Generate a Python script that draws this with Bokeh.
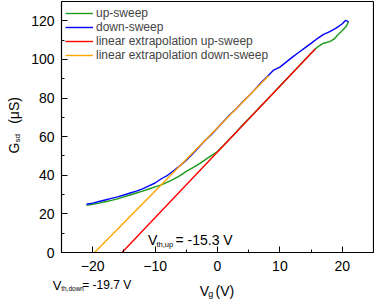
import math
from bokeh.plotting import figure
from bokeh.models import Label, SingleIntervalTicker, FixedTicker, Range1d, LinearAxis
from bokeh.embed import file_html
from bokeh.resources import INLINE

# ---- data ----
vg_up = [-21, -20, -19, -18, -17, -16, -15, -14, -13, -12, -11, -10, -9, -8, -7, -6,
         -5, -4, -3, -2, -1, 0, 1, 2, 3, 4, 5, 6, 7, 8, 9, 10, 11, 12, 13, 14, 15,
         16, 17, 18, 18.7, 19.3, 20, 20.6, 21]
g_up = [24.4, 25.0, 25.6, 26.3, 27.0, 27.8, 28.8, 29.8, 30.8, 31.8, 32.9, 34.0, 35.0,
        36.5, 38.0, 39.8, 42.0, 43.8, 45.8, 48.0, 50.2, 52.3, 55.6, 59.0, 62.3, 66.0,
        69.3, 72.6, 76.0, 79.4, 82.8, 86.2, 89.6, 93.0, 96.4, 99.8, 103.2, 106.4,
        108.4, 109.2, 110.6, 112.8, 115.0, 117.0, 119.5]

vg_down = [-21, -20, -19, -18, -17, -16, -15, -14, -13, -12, -11, -10, -9, -8, -7, -6,
           -5, -4, -3, -2, -1, 0, 1, 2, 3, 4, 5, 6, 7, 8, 9, 10, 11, 12, 13, 14, 15,
           16, 17, 18, 19, 20, 20.5, 21]
g_down = [25.0, 25.6, 26.4, 27.2, 28.0, 28.8, 29.8, 30.8, 31.8, 33.0, 34.5, 36.0, 38.2,
          40.0, 42.5, 45.0, 47.8, 51.0, 54.5, 58.0, 61.0, 64.5, 68.0, 71.5, 74.5, 78.0,
          81.0, 84.5, 88.0, 91.2, 94.5, 96.0, 98.6, 101.2, 103.6, 106.0, 108.3, 110.8,
          113.0, 114.4, 116.2, 118.5, 120.2, 119.6]

fit_up_x = [-15.3, 15.7]
fit_up_y = [0, 105.5]
fit_down_x = [-19.7, 8.2]
fit_down_y = [0, 91.5]

x_bounds = (-25, 25)
y_bounds = (0, 130)
x_tick_interval = 10
y_tick_interval = 20

FONT = "Liberation Sans"

# the frame fills the canvas; the axes are pinned at the box edges so that the
# texts around the box are drawn inside the frame and are not clipped
p = figure(width=374, height=299, output_backend="svg", toolbar_location=None,
           x_range=Range1d(-34.776, 25.16), y_range=Range1d(-24.342, 130.518),
           min_border_left=0, min_border_right=0, min_border_top=0,
           min_border_bottom=0)

p.background_fill_color = "white"
p.border_fill_color = "white"
p.outline_line_color = None
p.xgrid.visible = False
p.ygrid.visible = False

p.line(vg_up, g_up, color="#1A9A1A", line_width=1.4, legend_label="up-sweep")
p.line(vg_down, g_down, color="#0000FF", line_width=1.4, legend_label="down-sweep")
p.line(fit_up_x, fit_up_y, color="#FF0000", line_width=1.4,
       legend_label="linear extrapolation up-sweep")
p.line(fit_down_x, fit_down_y, color="#FFA500", line_width=1.4,
       legend_label="linear extrapolation down-sweep")

p.xaxis.ticker = SingleIntervalTicker(interval=x_tick_interval, num_minor_ticks=2)
p.yaxis.ticker = SingleIntervalTicker(interval=y_tick_interval, num_minor_ticks=2)
p.xaxis.fixed_location = y_bounds[0]
p.xaxis.bounds = x_bounds
p.yaxis.fixed_location = x_bounds[0]
p.yaxis.bounds = y_bounds
for ax in (p.xaxis, p.yaxis):
    ax.axis_line_color = "black"
    ax.axis_line_width = 1.2
    ax.major_tick_in = 6
    ax.major_tick_out = 0
    ax.minor_tick_in = 3
    ax.minor_tick_out = 0
    ax.major_tick_line_color = "black"
    ax.minor_tick_line_color = "black"
    ax.major_label_text_font = FONT
    ax.major_label_text_font_size = "14px"
    ax.major_label_text_color = "black"
p.xaxis.major_label_standoff = 8
p.yaxis.major_label_standoff = 7

# top and right edges of the box
top_ax = LinearAxis(fixed_location=y_bounds[1], bounds=x_bounds,
                    ticker=FixedTicker(ticks=[]), axis_line_color="black",
                    axis_line_width=1.2, major_label_text_font_size="0px")
right_ax = LinearAxis(fixed_location=x_bounds[1], bounds=y_bounds,
                      ticker=FixedTicker(ticks=[]), axis_line_color="black",
                      axis_line_width=1.2, major_label_text_font_size="0px")
p.add_layout(top_ax, "above")
p.add_layout(right_ax, "right")

leg = p.legend[0]
leg.location = (65, 237)
leg.margin = 0
leg.padding = 2
leg.spacing = 0
leg.glyph_width = 28
leg.glyph_height = 14
leg.label_height = 14
leg.label_standoff = 3
leg.label_text_font = FONT
leg.label_text_font_size = "12px"
leg.border_line_color = None
leg.background_fill_alpha = 0


def lab(x, y, text, size, angle=0.0):
    p.add_layout(Label(x=x, y=y, text=text, text_font=FONT, text_font_size=size,
                       text_baseline="alphabetic", text_align="left",
                       text_color="black", angle=angle))


# V_th,up annotation
lab(-11.14, 6.22, "V", "14px")
lab(-9.78, 4.14, "th,up", "7.5px")
lab(-6.73, 6.22, "= -15.3 V", "14px")
# V_th,down annotation
lab(-26.39, -16.94, "V", "13px")
lab(-25.05, -18.39, "th,down", "6.5px")
lab(-21.68, -16.94, "= -19.7 V", "12px")
# x axis title
lab(-2.84, -20.04, "V", "14px")
lab(-1.49, -21.49, "g", "9px")
lab(-0.32, -20.04, "(V)", "14px")
# y axis title (rotated)
lab(-32.61, 51.27, "G", "14px", math.pi / 2)
lab(-32.13, 56.97, "sd", "8px", math.pi / 2)
lab(-32.61, 66.66, "(μS)", "14px", math.pi / 2)

open("out.html", "w").write(file_html(p, INLINE))
